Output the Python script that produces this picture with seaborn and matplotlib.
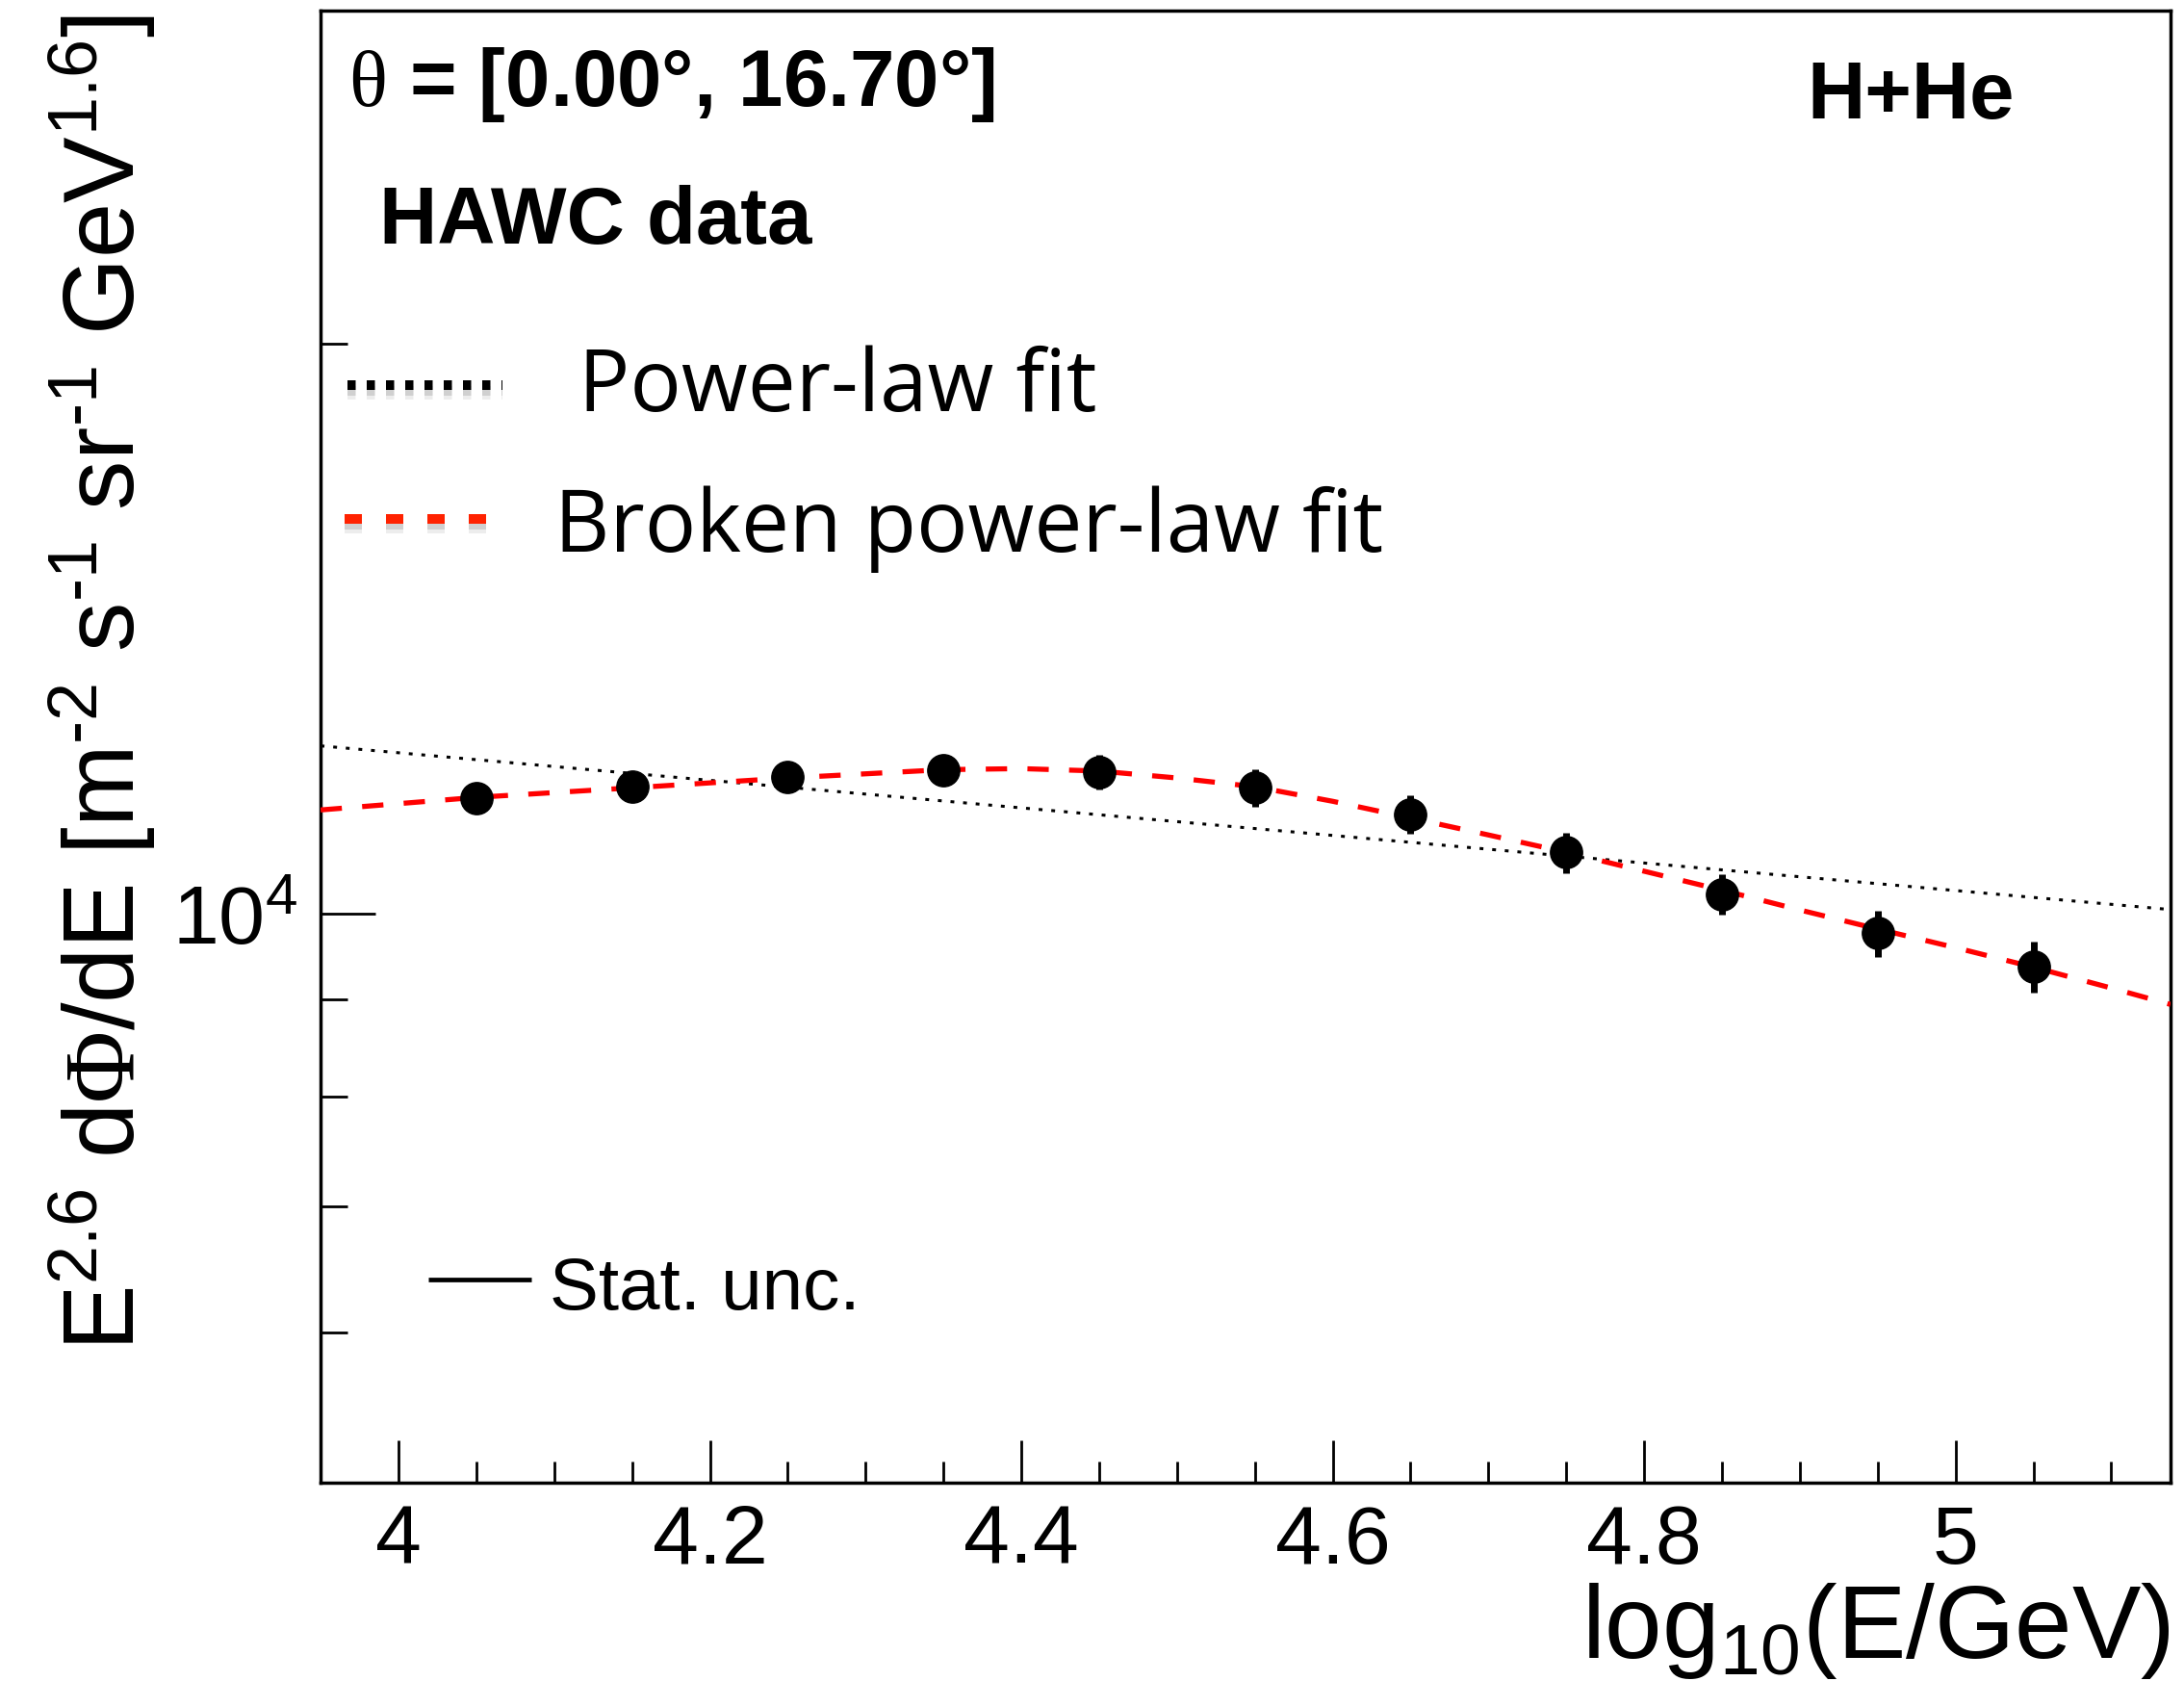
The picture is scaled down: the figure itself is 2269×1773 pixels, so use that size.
import matplotlib
matplotlib.use('Agg')
import matplotlib.pyplot as plt
import matplotlib.ticker as mticker
import matplotlib.patheffects as pe
import seaborn as sns

# HAWC H+He spectrum, zenith band 0-16.7 deg
log_energy = [4.05, 4.15, 4.25, 4.35, 4.45, 4.55, 4.65, 4.75, 4.85, 4.95, 5.05]
flux = [11510, 11670, 11810, 11900, 11870, 11650, 11280, 10770, 10230, 9760, 9370]
flux_err = [176, 191, 208, 209, 250, 260, 264, 265, 252, 275, 296]

# fit curves
pl_x = [3.95, 5.138]
pl_y = [12260, 10045]
bpl_x = [3.95, 4.05, 4.15, 4.25, 4.35, 4.40, 4.45, 4.50, 4.55, 4.60, 4.65,
         4.70, 4.75, 4.80, 4.85, 4.90, 4.95, 5.00, 5.05, 5.10, 5.138]
bpl_y = [11340, 11515, 11650, 11790, 11910, 11925, 11890, 11790, 11665, 11460, 11230,
         11000, 10770, 10525, 10285, 10040, 9810, 9590, 9365, 9130, 8950]

x_major = [4.0, 4.2, 4.4, 4.6, 4.8, 5.0]
x_labels = ['4', '4.2', '4.4', '4.6', '4.8', '5']
y_major = [1e4]
y_labels = [r'10$^{\mathrm{4}}$']
y_minor = [6000, 7000, 8000, 9000, 20000]

sns.set_style('white')
plt.rcParams['font.family'] = ['Liberation Sans', 'DejaVu Sans']
plt.rcParams['mathtext.fontset'] = 'custom'
plt.rcParams['mathtext.rm'] = 'Liberation Sans'
plt.rcParams['mathtext.sf'] = 'Liberation Sans'
plt.rcParams['mathtext.cal'] = 'Liberation Serif'
plt.rcParams['mathtext.it'] = 'Liberation Sans:italic'
plt.rcParams['mathtext.bf'] = 'Liberation Sans:bold'
for k in ['text.color', 'axes.labelcolor', 'xtick.color', 'ytick.color', 'axes.edgecolor']:
    plt.rcParams[k] = 'black'

fig = plt.figure(figsize=(22.69, 17.74), dpi=100)
ax = fig.add_axes([0.1468, 0.1313, 0.847, 0.8619])
ax.set_yscale('log')

# fits
sns.lineplot(x=pl_x, y=pl_y, ax=ax, color='black', linewidth=2.2,
             linestyle=(0, (1.3, 3.0)), zorder=3)
sns.lineplot(x=bpl_x, y=bpl_y, ax=ax, color='#ff0000', linewidth=3.8,
             linestyle=(0, (4.2, 4.0)), zorder=4)

# data with statistical errors
ax.errorbar(log_energy, flux, yerr=flux_err, fmt='o', color='black',
            ms=24, elinewidth=5, capsize=0, zorder=5)

ax.set_xlim(3.95, 5.138)
ax.set_ylim(5000, 30000)

ax.xaxis.set_major_locator(mticker.FixedLocator(x_major))
ax.xaxis.set_major_formatter(mticker.FixedFormatter(x_labels))
ax.xaxis.set_minor_locator(mticker.MultipleLocator(0.05))
ax.yaxis.set_major_locator(mticker.FixedLocator(y_major))
ax.yaxis.set_major_formatter(mticker.FixedFormatter(y_labels))
ax.yaxis.set_minor_locator(mticker.FixedLocator(y_minor))
ax.yaxis.set_minor_formatter(mticker.NullFormatter())

ax.tick_params(axis='both', which='both', direction='in', bottom=True, left=True,
               top=False, right=False, width=2, color='black', labelsize=62,
               labelcolor='black')
ax.tick_params(axis='x', which='major', length=32, pad=15)
ax.tick_params(axis='x', which='minor', length=16)
ax.tick_params(axis='y', which='major', length=41, pad=17)
ax.tick_params(axis='y', which='minor', length=20)

for s in ax.spines.values():
    s.set_linewidth(2.5)
    s.set_color('black')

ax.set_xlabel(r'log$_{\mathrm{10}}$(E/GeV)', fontsize=77, ha='right', va='baseline')
ax.xaxis.set_label_coords(1.0, -0.1184)
ax.set_ylabel(r'E$^{\mathrm{2.6}}$ d$\mathcal{\Phi}$/dE [m$^{\text{-2}}$ s$^{\text{-1}}$ '
              r'sr$^{\text{-1}}$ GeV$^{\mathrm{1.6}}$]',
              fontsize=74, ha='right', va='baseline', rotation_mode='anchor')
ax.yaxis.set_label_coords(-0.1004, 0.998)

# labels inside the frame
ax.text(0.0151, 0.9359, r'$\mathcal{\theta}$ = [0.00°, 16.70°]', transform=ax.transAxes,
        fontsize=60, fontweight='bold', va='baseline')
ax.text(0.0317, 0.8424, 'HAWC data', transform=ax.transAxes,
        fontsize=60, fontweight='bold', va='baseline')
ax.text(0.8033, 0.9274, 'H+He', transform=ax.transAxes,
        fontsize=60, fontweight='bold', va='baseline')

# hand-made legend with drop shadows
shadow = [pe.SimpleLineShadow(offset=(0, -4), shadow_color='black', alpha=0.12),
          pe.SimpleLineShadow(offset=(0, -7), shadow_color='black', alpha=0.07),
          pe.Normal()]
ax.plot([0.0146, 0.0983], [0.7456, 0.7456], transform=ax.transAxes, color='black',
        linewidth=7.2, linestyle=(0, (0.85, 1.15)), solid_capstyle='butt',
        dash_capstyle='butt', path_effects=shadow)
ax.plot([0.0130, 0.0900], [0.6547, 0.6547], transform=ax.transAxes, color='#ff2200',
        linewidth=7.2, linestyle=(0, (1.8, 2.5)), dash_capstyle='butt', path_effects=shadow)
ax.text(0.1394, 0.7286, 'Power-law fit', transform=ax.transAxes, fontsize=64,
        family='Open Sans', va='baseline')
ax.text(0.1264, 0.6331, 'Broken power-law fit', transform=ax.transAxes, fontsize=64,
        family='Open Sans', va='baseline')

ax.plot([0.0583, 0.1139], [0.1380, 0.1380], transform=ax.transAxes, color='black',
        linewidth=3.4, solid_capstyle='butt')
ax.text(0.1238, 0.1184, 'Stat. unc.', transform=ax.transAxes, fontsize=55, va='baseline')

fig.savefig('out.png', dpi=100)
